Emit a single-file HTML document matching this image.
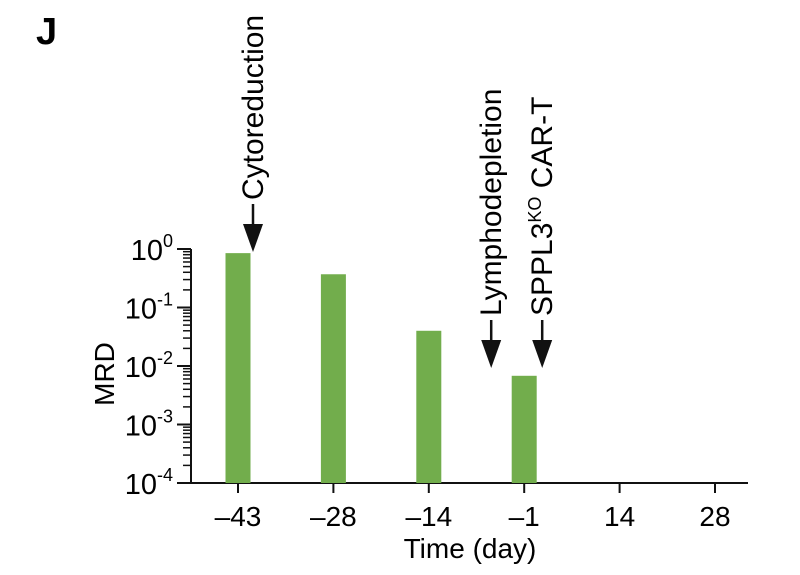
<!DOCTYPE html>
<html><head><meta charset="utf-8"><style>
body{margin:0;background:#fff}
svg{font-family:"Liberation Sans",Arial,sans-serif}
</style></head><body>
<svg width="800" height="570" viewBox="0 0 800 570">
<text x="36" y="44" font-size="38" font-weight="bold">J</text>
<g id="axes"></g>
<g id="bars"></g>
<g id="ann"></g>
</svg>
<script>
const categories=[-43,-28,-14,-1,14,28];
const mrdValues=[0.85,0.37,0.04,0.0068,null,null];
const yTickExps=[0,-1,-2,-3,-4];
const events=[{label:"Cytoreduction",day:-43,offset:15},{label:"Lymphodepletion",day:-1,offset:-33},{label:"SPPL3KO CAR-T",day:-1,offset:18}];
const NS="http://www.w3.org/2000/svg";
const x0=191,x1=748,yTop=249,yBot=483;
const xPos=d=>{const i=categories.indexOf(d);return 238+i*95.4;};
const yPos=v=>yTop-Math.log10(v)*(yBot-yTop)/4;
function mk(tag,attrs,parent){const e=document.createElementNS(NS,tag);for(const k in attrs)e.setAttribute(k,attrs[k]);parent.appendChild(e);return e;}
const axes=document.getElementById('axes'),bars=document.getElementById('bars'),ann=document.getElementById('ann');
let l=mk('line',{x1:x0,y1:yTop,x2:x0,y2:yBot+1,stroke:'#111','stroke-width':2},axes);


l=mk('line',{x1:x0,y1:yBot,x2:x1,y2:yBot,stroke:'#111','stroke-width':2},axes);


yTickExps.forEach(e=>{
  const y=yPos(Math.pow(10,e));
  let t=mk('line',{x1:x0-14,y1:y,x2:x0,y2:y,stroke:'#111','stroke-width':2},axes);
  
  
  let tx=mk('text',{x:x0-18,y:y+11,'font-size':29,'text-anchor':'end'},axes);
  
  
  tx.innerHTML='10<tspan dy="-13" font-size="18">'+e+'</tspan>';
  if(e>-4){for(let m=2;m<=9;m++){const ym=yPos(Math.pow(10,e-1)*m);
    let mt=mk('line',{x1:x0-8,y1:ym,x2:x0,y2:ym,stroke:'#111','stroke-width':1.5},axes);
    
    }}
});
categories.forEach(d=>{
  const x=xPos(d);
  let t=mk('line',{x1:x,y1:yBot,x2:x,y2:yBot+10,stroke:'#111','stroke-width':2},axes);
  
  
  let tx=mk('text',{x:x,y:yBot+43,'font-size':28,'text-anchor':'middle'},axes);
  
  
  tx.textContent=(d<0?'\u2013'+(-d):d);
});
let xt=mk('text',{x:470,y:558,'font-size':28,'text-anchor':'middle'},axes);


xt.textContent='Time (day)';
let yt=mk('text',{x:0,y:0,'font-size':28,'text-anchor':'middle',transform:'translate(114,374) rotate(-90)'},axes);


yt.textContent='MRD';
categories.forEach((d,i)=>{
  const v=mrdValues[i]; if(v==null)return;
  const y=yPos(v);
  let r=mk('rect',{x:xPos(d)-12.5,y:y,width:25,height:yBot-y,fill:'#72ad4c'},bars);
  
  
});
events.forEach(ev=>{
  const x=xPos(ev.day)+ev.offset;
  const tipY = ev.day===-43?252:368;
  const g=mk('g',{},ann);
  
  
  mk('line',{x1:x,y1:tipY-48,x2:x,y2:tipY-26,stroke:'#111','stroke-width':2.5},g);
  mk('polygon',{points:(x-10)+','+(tipY-28)+' '+(x+10)+','+(tipY-28)+' '+x+','+tipY,fill:'#111'},g);
  const t=mk('text',{x:0,y:0,'font-size':30,transform:'translate('+(x+10)+','+(tipY-52)+') rotate(-90)'},g);
  if(ev.label.startsWith('SPPL3KO')) t.innerHTML='SPPL3<tspan dy="-11" font-size="18">KO</tspan><tspan dy="11"> CAR-T</tspan>';
  else t.textContent=ev.label;
});
</script>
</body></html>
